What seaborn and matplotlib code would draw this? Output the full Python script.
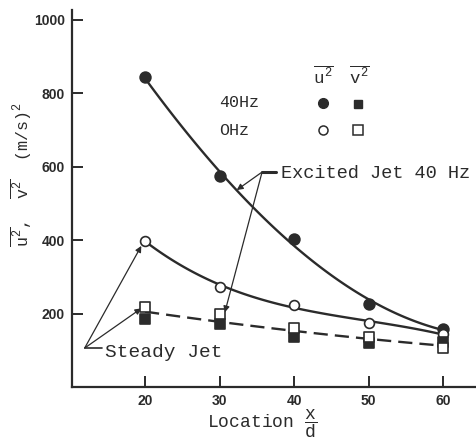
import matplotlib
matplotlib.use('Agg')
import matplotlib.pyplot as plt
import seaborn as sns
import numpy as np

# values
x_d = [20, 30, 40, 50, 60]
u2_40hz = [843, 574, 403, 226, 158]
u2_0hz = [398, 273, 224, 174, 144]
v2_40hz = [185, 171, 137, 121, 122]
v2_0hz = [219, 199, 160, 137, 106]
y_ticks = [200, 400, 600, 800, 1000]

sns.set_style('ticks')
plt.rcParams['font.family'] = ['Liberation Mono', 'DejaVu Sans']
plt.rcParams['mathtext.fontset'] = 'custom'
plt.rcParams['mathtext.rm'] = 'Liberation Mono'
plt.rcParams['mathtext.it'] = 'Liberation Mono'
plt.rcParams['mathtext.tt'] = 'Liberation Mono'

ink = '#2b2b2b'
fig = plt.figure(figsize=(4.76, 4.48), dpi=100)
ax = fig.add_axes([72 / 476, 1 - 387 / 448, 1 - 72 / 476, 377 / 448])

# fitted curves through the points
sns.regplot(x=x_d, y=u2_40hz, order=3, ci=None, scatter=False, ax=ax,
            line_kws=dict(color=ink, lw=1.7))
sns.regplot(x=x_d, y=u2_0hz, order=3, ci=None, scatter=False, ax=ax,
            line_kws=dict(color=ink, lw=1.7))
sns.regplot(x=x_d + x_d, y=v2_40hz + v2_0hz, order=2, ci=None, scatter=False, ax=ax,
            line_kws=dict(color=ink, lw=1.7, ls=(0, (6, 3))))

# markers
sns.scatterplot(x=x_d, y=u2_40hz, marker='o', s=60, color=ink, edgecolor=ink, linewidth=1.2, ax=ax, zorder=5)
sns.scatterplot(x=x_d, y=u2_0hz, marker='o', s=50, facecolor='white', edgecolor=ink, linewidth=1.2, ax=ax, zorder=5)
sns.scatterplot(x=x_d, y=v2_40hz, marker='s', s=45, color=ink, edgecolor=ink, linewidth=1.2, ax=ax, zorder=5)
sns.scatterplot(x=x_d, y=v2_0hz, marker='s', s=45, facecolor='white', edgecolor=ink, linewidth=1.2, ax=ax, zorder=6)

ax.set_xlim(10.2, 64.4)
ax.set_ylim(0, 1026)
ax.set_xticks(x_d)
ax.set_yticks(y_ticks)
ax.set_xticklabels([str(v) for v in x_d], fontfamily='Liberation Sans', fontweight='bold', fontsize=10)
ax.set_yticklabels([str(v) for v in y_ticks], fontfamily='Liberation Sans', fontweight='bold', fontsize=10)
ax.tick_params(direction='in', length=8, width=1.4, colors=ink, pad=5)
sns.despine(ax=ax)
for s in ['left', 'bottom']:
    ax.spines[s].set_linewidth(1.6)
    ax.spines[s].set_color(ink)

ax.set_xlabel(r'Location $\dfrac{x}{d}$', fontsize=13, color=ink)
ax.xaxis.set_label_coords(0.47, -0.055, transform=ax.transAxes)
ax.xaxis.label.set_verticalalignment('top')
fig.text(0.045, 0.61, r'$\overline{u^2}$,  $\overline{v^2}$  (m/s)$^2$', rotation=90,
         fontsize=12, color=ink, ha='center', va='center')

# legend table
ax.text(44.0, 848, r'$\overline{u^2}$', fontsize=12.5, color=ink, ha='center', va='center')
ax.text(48.7, 848, r'$\overline{v^2}$', fontsize=12.5, color=ink, ha='center', va='center')
ax.text(30.0, 773, '40Hz', fontsize=12, color=ink, va='center')
ax.text(30.0, 699, 'OHz', fontsize=12, color=ink, va='center')
ax.plot([43.9], [773], 'o', ms=7, color=ink, clip_on=False)
ax.plot([48.6], [771], 's', ms=6, color=ink, clip_on=False)
ax.plot([43.9], [699], 'o', ms=6.5, mfc='white', mec=ink, mew=1.1, clip_on=False)
ax.plot([48.6], [699], 's', ms=6.5, mfc='white', mec=ink, mew=1.1, clip_on=False)

# annotations
arrow = dict(arrowstyle='-|>', color=ink, lw=0.9, mutation_scale=9, shrinkA=0, shrinkB=0)
ax.plot([35.7, 37.6], [585, 585], color=ink, lw=2.2)
ax.annotate('', xy=(32.3, 536), xytext=(35.7, 585), arrowprops=arrow)
ax.annotate('', xy=(30.7, 203), xytext=(35.7, 585), arrowprops=arrow)
ax.text(38.3, 580, 'Excited Jet 40 Hz', fontsize=13.4, color=ink, va='center', clip_on=False)

ax.plot([11.9, 14.2], [106, 106], color=ink, lw=1.2)
ax.annotate('', xy=(19.5, 384), xytext=(11.9, 106), arrowprops=arrow)
ax.annotate('', xy=(19.5, 214), xytext=(11.9, 106), arrowprops=arrow)
ax.text(14.6, 95, 'Steady Jet', fontsize=14, color=ink, va='center')

fig.savefig('out.png', dpi=100)
